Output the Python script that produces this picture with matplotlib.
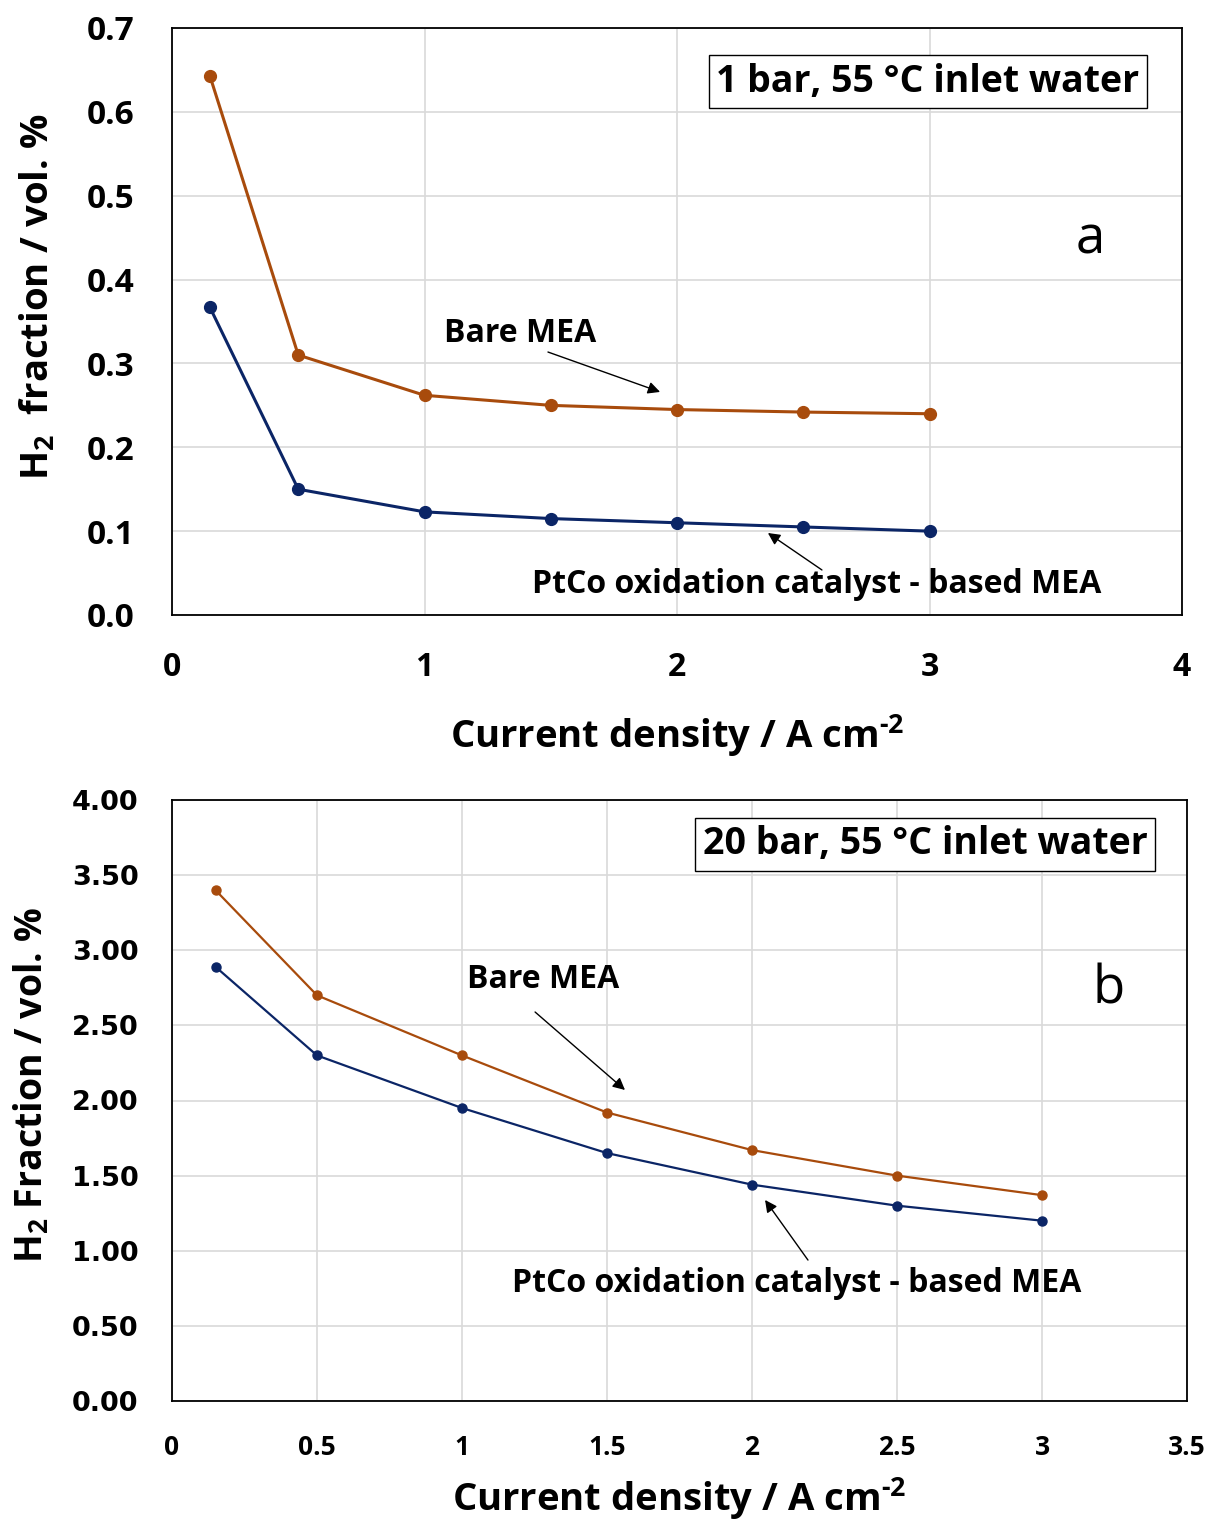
import matplotlib.pyplot as plt
from matplotlib.ticker import MultipleLocator, FormatStrFormatter, FuncFormatter

FONT = 'Open Sans'
plt.rcParams['font.family'] = [FONT, 'DejaVu Sans']
plt.rcParams['mathtext.fontset'] = 'custom'
plt.rcParams['mathtext.rm'] = FONT + ':bold'
plt.rcParams['mathtext.bf'] = FONT + ':bold'

# data
current_a = [0.15, 0.5, 1, 1.5, 2, 2.5, 3]
bare_a = [0.643, 0.310, 0.262, 0.250, 0.245, 0.242, 0.240]
ptco_a = [0.367, 0.150, 0.123, 0.115, 0.110, 0.105, 0.100]

current_b = [0.15, 0.5, 1, 1.5, 2, 2.5, 3]
bare_b = [3.40, 2.70, 2.30, 1.92, 1.67, 1.50, 1.37]
ptco_b = [2.89, 2.30, 1.95, 1.65, 1.44, 1.30, 1.20]

ORANGE = '#A84B0C'
NAVY = '#0B2566'
GRID = '#d9d9d9'

fig = plt.figure(figsize=(12.11, 15.20), dpi=100)
W, H = 1211, 1520

def px_axes(l, t, r, b):
    return fig.add_axes([l / W, 1 - b / H, (r - l) / W, (b - t) / H])

def style_axes(ax):
    ax.grid(True, color=GRID, linewidth=1.2)
    ax.set_axisbelow(True)
    for s in ax.spines.values():
        s.set_color('black')
        s.set_linewidth(1.3)
    ax.tick_params(length=0)

def arrow(ax, tail, head):
    ax.annotate('', xy=head, xytext=tail,
                arrowprops=dict(arrowstyle='-|>', color='black', lw=1, mutation_scale=18,
                                shrinkA=0, shrinkB=0))

XLABEL = 'Current density / A cm$^{\\text{-2}}$'

#   PANEL A 
ax1 = px_axes(172, 28, 1182, 615)
style_axes(ax1)
ax1.plot(current_a, bare_a, '-o', color=ORANGE, lw=2.2, ms=8.5, zorder=3)
ax1.plot(current_a, ptco_a, '-o', color=NAVY, lw=2.2, ms=8.5, zorder=3)
ax1.set_xlim(0, 4)
ax1.set_ylim(0, 0.7)
ax1.xaxis.set_major_locator(MultipleLocator(1))
ax1.yaxis.set_major_locator(MultipleLocator(0.1))
ax1.yaxis.set_major_formatter(FormatStrFormatter('%.1f'))
ax1.tick_params(axis='x', pad=26, labelsize=23)
ax1.tick_params(axis='y', pad=27, labelsize=24)
for lab in ax1.get_xticklabels() + ax1.get_yticklabels():
    lab.set_fontweight('bold')
ax1.set_xlabel(XLABEL, fontsize=27.5, fontweight='bold', labelpad=20)
ax1.set_ylabel('H$_{\\text{2}}$  fraction / vol. %', fontsize=27.5, fontweight='bold')
ax1.yaxis.set_label_coords(-0.113, 0.542)

ax1.text(1.378, 0.336, 'Bare MEA', fontsize=23, fontweight='bold', ha='center', va='center')
arrow(ax1, (1.489, 0.3136), (1.933, 0.266))
ax1.text(2.554, 0.036, 'PtCo oxidation catalyst - based MEA', fontsize=23, fontweight='bold',
         ha='center', va='center')
arrow(ax1, (2.574, 0.0537), (2.36, 0.0978))
ax1.text(2.994, 0.636, '1 bar, 55 °C inlet water', fontsize=27, fontweight='bold',
         ha='center', va='center',
         bbox=dict(boxstyle='square,pad=0.2', fc='white', ec='black', lw=1))
ax1.text(3.636, 0.447, 'a', fontsize=38, ha='center', va='center')

#   PANEL B 
ax2 = px_axes(172, 800, 1187, 1401)
style_axes(ax2)
ax2.plot(current_b, bare_b, '-o', color=ORANGE, lw=1.6, ms=6.5, zorder=3)
ax2.plot(current_b, ptco_b, '-o', color=NAVY, lw=1.6, ms=6.5, zorder=3)
ax2.set_xlim(0, 3.5)
ax2.set_ylim(0, 4)
ax2.xaxis.set_major_locator(MultipleLocator(0.5))
ax2.yaxis.set_major_locator(MultipleLocator(0.5))
ax2.xaxis.set_major_formatter(FuncFormatter(lambda v, p: f'{v:g}'))
ax2.yaxis.set_major_formatter(FormatStrFormatter('%.2f'))
ax2.tick_params(axis='x', pad=24, labelsize=19)
ax2.tick_params(axis='y', pad=24, labelsize=19.5)
for lab in ax2.get_xticklabels():
    lab.set_fontweight('bold')
for lab in ax2.get_yticklabels():
    lab.set_fontweight('bold')
    lab.set_family('DejaVu Sans')
ax2.set_xlabel(XLABEL, fontsize=27.5, fontweight='bold', labelpad=10)
ax2.set_ylabel('H$_{\\text{2}}$ Fraction / vol. %', fontsize=27, fontweight='bold')
ax2.yaxis.set_label_coords(-0.119, 0.526)

ax2.text(1.279, 2.802, 'Bare MEA', fontsize=23, fontweight='bold', ha='center', va='center')
arrow(ax2, (1.252, 2.589), (1.562, 2.07))
ax2.text(2.155, 0.785, 'PtCo oxidation catalyst - based MEA', fontsize=23, fontweight='bold',
         ha='center', va='center')
arrow(ax2, (2.193, 0.938), (2.045, 1.338))
ax2.text(2.597, 3.707, '20 bar, 55 °C inlet water', fontsize=27, fontweight='bold',
         ha='center', va='center',
         bbox=dict(boxstyle='square,pad=0.2', fc='white', ec='black', lw=1))
ax2.text(3.231, 2.735, 'b', fontsize=38, ha='center', va='center')

fig.savefig('out.png', dpi=100)
